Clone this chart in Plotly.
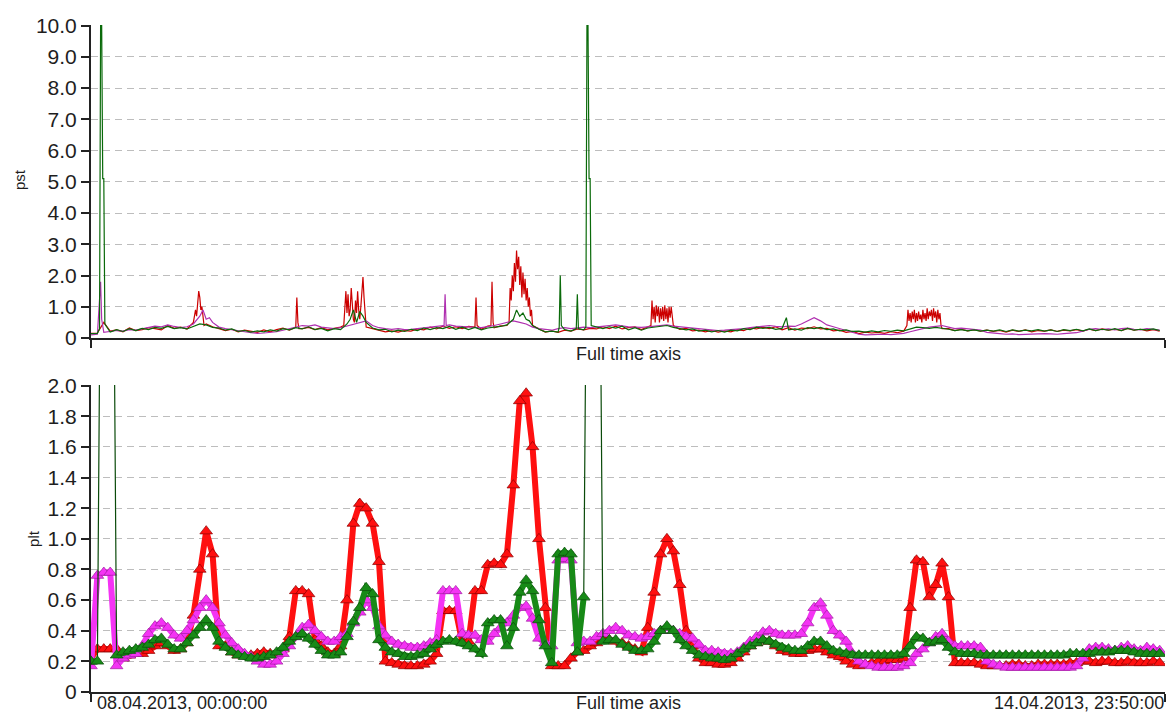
import pandas as pd
import plotly.graph_objects as go

START = pd.Timestamp("2013-04-08 00:00:00")
END = pd.Timestamp("2013-04-14 23:50:00")

start_label = "08.04.2013, 00:00:00"
end_label = "14.04.2013, 23:50:00"
axis_title = "Full time axis"

# ---------------- plt (hourly values, h = 0..167) ----------------
plt_red = [
    0.22, 0.28, 0.28, 0.28, 0.28, 0.22, 0.24, 0.25, 0.25, 0.27,
    0.30, 0.32, 0.30, 0.27, 0.28, 0.32, 0.50, 0.80, 1.05, 0.90,
    0.30, 0.30, 0.26, 0.24, 0.24, 0.24, 0.25, 0.26, 0.25, 0.24,
    0.28, 0.36, 0.66, 0.66, 0.64, 0.34, 0.30, 0.26, 0.25, 0.30,
    0.60, 1.10, 1.23, 1.20, 1.10, 0.85, 0.20, 0.19, 0.18, 0.17,
    0.17, 0.17, 0.18, 0.20, 0.25, 0.53, 0.53, 0.53, 0.33, 0.33,
    0.66, 0.66, 0.83, 0.84, 0.83, 0.90, 1.35, 1.90, 1.95, 1.60,
    1.00, 0.55, 0.17, 0.17, 0.17, 0.22, 0.26, 0.27, 0.30, 0.32,
    0.34, 0.34, 0.33, 0.32, 0.30, 0.28, 0.26, 0.42, 0.65, 0.90,
    1.00, 0.92, 0.70, 0.40, 0.30, 0.22, 0.19, 0.19, 0.18, 0.18,
    0.19, 0.22, 0.26, 0.30, 0.32, 0.34, 0.33, 0.30, 0.27, 0.26,
    0.25, 0.25, 0.27, 0.28, 0.28, 0.26, 0.24, 0.23, 0.20, 0.18,
    0.17, 0.18, 0.19, 0.20, 0.20, 0.21, 0.21, 0.22, 0.55, 0.86,
    0.85, 0.62, 0.70, 0.84, 0.62, 0.19, 0.19, 0.19, 0.19, 0.18,
    0.17, 0.17, 0.17, 0.17, 0.18, 0.18, 0.17, 0.17, 0.18, 0.18,
    0.18, 0.18, 0.18, 0.19, 0.19, 0.20, 0.20, 0.19, 0.20, 0.20,
    0.19, 0.19, 0.20, 0.19, 0.19, 0.19, 0.20, 0.19,
]
plt_mag = [
    0.17, 0.76, 0.78, 0.78, 0.17, 0.22, 0.24, 0.25, 0.30, 0.38,
    0.43, 0.45, 0.42, 0.37, 0.35, 0.40, 0.47, 0.55, 0.60, 0.55,
    0.45, 0.37, 0.32, 0.28, 0.25, 0.23, 0.20, 0.18, 0.18, 0.20,
    0.25, 0.30, 0.36, 0.42, 0.44, 0.40, 0.36, 0.33, 0.33, 0.36,
    0.38, 0.45, 0.52, 0.60, 0.55, 0.43, 0.37, 0.33, 0.31, 0.30,
    0.29, 0.29, 0.30, 0.32, 0.34, 0.66, 0.66, 0.66, 0.38, 0.37,
    0.37, 0.34, 0.33, 0.38, 0.42, 0.45, 0.50, 0.55, 0.56, 0.48,
    0.35, 0.32, 0.30, 0.86, 0.87, 0.86, 0.32, 0.33, 0.33, 0.36,
    0.38, 0.40, 0.42, 0.40, 0.37, 0.36, 0.35, 0.36, 0.38, 0.40,
    0.42, 0.40, 0.38, 0.36, 0.35, 0.31, 0.27, 0.27, 0.26, 0.25,
    0.25, 0.26, 0.29, 0.33, 0.36, 0.39, 0.40, 0.38, 0.37, 0.37,
    0.37, 0.38, 0.45, 0.55, 0.58, 0.50, 0.40, 0.37, 0.33, 0.25,
    0.20, 0.18, 0.17, 0.16, 0.16, 0.16, 0.16, 0.17, 0.19, 0.25,
    0.28, 0.32, 0.36, 0.38, 0.33, 0.30, 0.30, 0.30, 0.30, 0.29,
    0.20, 0.18, 0.17, 0.16, 0.16, 0.16, 0.16, 0.16, 0.16, 0.16,
    0.16, 0.16, 0.16, 0.16, 0.17, 0.22, 0.28, 0.29, 0.29, 0.28,
    0.27, 0.29, 0.30, 0.28, 0.27, 0.29, 0.28, 0.27,
]
plt_grn = [
    0.20, 0.20, 6.00, 6.00, 0.24, 0.26, 0.27, 0.28, 0.29, 0.31,
    0.34, 0.35, 0.31, 0.28, 0.28, 0.32, 0.37, 0.42, 0.47, 0.42,
    0.33, 0.29, 0.26, 0.24, 0.23, 0.22, 0.22, 0.23, 0.24, 0.26,
    0.29, 0.33, 0.36, 0.38, 0.35, 0.31, 0.27, 0.24, 0.24, 0.26,
    0.36, 0.46, 0.55, 0.68, 0.64, 0.34, 0.29, 0.26, 0.25, 0.23,
    0.23, 0.24, 0.25, 0.28, 0.31, 0.33, 0.34, 0.33, 0.32, 0.30,
    0.28, 0.25, 0.45, 0.47, 0.47, 0.30, 0.42, 0.65, 0.73, 0.66,
    0.47, 0.30, 0.19, 0.90, 0.91, 0.90, 0.26, 0.62, 6.00, 6.00,
    0.33, 0.34, 0.34, 0.31, 0.29, 0.27, 0.27, 0.28, 0.33, 0.40,
    0.43, 0.40, 0.34, 0.30, 0.27, 0.24, 0.23, 0.22, 0.22, 0.21,
    0.22, 0.25, 0.28, 0.30, 0.32, 0.34, 0.33, 0.31, 0.29, 0.28,
    0.27, 0.27, 0.30, 0.33, 0.33, 0.30, 0.27, 0.26, 0.25, 0.24,
    0.24, 0.24, 0.24, 0.24, 0.24, 0.24, 0.24, 0.25, 0.30, 0.36,
    0.35, 0.32, 0.33, 0.34, 0.29, 0.26, 0.25, 0.25, 0.25, 0.24,
    0.24, 0.24, 0.24, 0.24, 0.24, 0.24, 0.24, 0.24, 0.24, 0.24,
    0.24, 0.24, 0.24, 0.25, 0.25, 0.25, 0.25, 0.26, 0.26, 0.26,
    0.27, 0.27, 0.27, 0.26, 0.25, 0.25, 0.25, 0.25,
]

# ---------------- pst (hourly base values + 10-minute events) ----------------
pst_red_base = [
    0.15, 0.16, 0.28, 0.22, 0.26, 0.20, 0.32, 0.24, 0.27, 0.33,
    0.30, 0.26, 0.40, 0.31, 0.35, 0.29, 0.42, 0.50, 0.45, 0.36,
    0.30, 0.24, 0.28, 0.20, 0.25, 0.22, 0.18, 0.26, 0.20, 0.27,
    0.32, 0.25, 0.37, 0.30, 0.34, 0.27, 0.33, 0.26, 0.31, 0.35,
    0.50, 0.60, 0.70, 0.45, 0.30, 0.24, 0.20, 0.23, 0.19, 0.24,
    0.22, 0.29, 0.26, 0.35, 0.29, 0.38, 0.31, 0.36, 0.30, 0.37,
    0.33, 0.28, 0.38, 0.33, 0.39, 0.40, 1.50, 2.00, 1.50, 0.60,
    0.30, 0.19, 0.23, 0.18, 0.25, 0.22, 0.29, 0.26, 0.31, 0.29,
    0.36, 0.30, 0.38, 0.29, 0.33, 0.36, 0.27, 0.35, 0.90, 0.95,
    0.90, 0.35, 0.28, 0.31, 0.23, 0.25, 0.20, 0.24, 0.19, 0.23,
    0.20, 0.27, 0.24, 0.32, 0.29, 0.35, 0.30, 0.36, 0.26, 0.33,
    0.25, 0.32, 0.30, 0.36, 0.29, 0.31, 0.23, 0.25, 0.18, 0.21,
    0.14, 0.19, 0.16, 0.18, 0.15, 0.20, 0.17, 0.22, 0.70, 0.80,
    0.75, 0.70, 0.85, 0.40, 0.30, 0.24, 0.28, 0.23, 0.27, 0.22,
    0.25, 0.21, 0.24, 0.19, 0.25, 0.21, 0.26, 0.20, 0.24, 0.22,
    0.26, 0.21, 0.25, 0.23, 0.27, 0.22, 0.28, 0.24, 0.29, 0.25,
    0.28, 0.24, 0.31, 0.25, 0.28, 0.23, 0.27, 0.22,
]
pst_mag_base = [
    0.10, 0.12, 0.18, 0.20, 0.24, 0.22, 0.27, 0.25, 0.30, 0.33,
    0.38, 0.36, 0.42, 0.37, 0.33, 0.36, 0.45, 0.55, 0.60, 0.45,
    0.35, 0.30, 0.26, 0.24, 0.20, 0.17, 0.15, 0.16, 0.18, 0.20,
    0.25, 0.30, 0.36, 0.40, 0.38, 0.42, 0.35, 0.32, 0.30, 0.33,
    0.38, 0.45, 0.50, 0.55, 0.40, 0.33, 0.30, 0.28, 0.30, 0.27,
    0.28, 0.30, 0.32, 0.35, 0.38, 0.40, 0.42, 0.38, 0.36, 0.35,
    0.34, 0.33, 0.36, 0.40, 0.45, 0.50, 0.55, 0.50, 0.45, 0.35,
    0.30, 0.28, 0.25, 0.30, 0.33, 0.30, 0.32, 0.35, 0.33, 0.36,
    0.38, 0.40, 0.42, 0.38, 0.36, 0.35, 0.34, 0.36, 0.38, 0.40,
    0.42, 0.38, 0.36, 0.34, 0.32, 0.30, 0.27, 0.25, 0.24, 0.25,
    0.26, 0.28, 0.30, 0.33, 0.36, 0.38, 0.40, 0.37, 0.36, 0.38,
    0.37, 0.45, 0.55, 0.65, 0.55, 0.42, 0.36, 0.30, 0.22, 0.18,
    0.12, 0.10, 0.11, 0.10, 0.12, 0.11, 0.13, 0.15, 0.20, 0.26,
    0.30, 0.35, 0.38, 0.40, 0.35, 0.30, 0.32, 0.30, 0.28, 0.25,
    0.18, 0.15, 0.14, 0.12, 0.13, 0.11, 0.12, 0.13, 0.12, 0.14,
    0.13, 0.12, 0.14, 0.15, 0.17, 0.22, 0.28, 0.30, 0.27, 0.29,
    0.26, 0.30, 0.32, 0.28, 0.26, 0.30, 0.28, 0.25,
]
pst_grn_base = [
    0.14, 0.15, 0.25, 0.19, 0.27, 0.21, 0.30, 0.24, 0.31, 0.27,
    0.34, 0.31, 0.37, 0.30, 0.33, 0.29, 0.38, 0.45, 0.42, 0.34,
    0.32, 0.25, 0.29, 0.21, 0.24, 0.19, 0.23, 0.20, 0.26, 0.22,
    0.30, 0.26, 0.33, 0.29, 0.36, 0.27, 0.31, 0.23, 0.30, 0.27,
    0.45, 0.55, 0.60, 0.50, 0.32, 0.26, 0.28, 0.20, 0.25, 0.21,
    0.28, 0.24, 0.32, 0.27, 0.33, 0.30, 0.37, 0.28, 0.35, 0.27,
    0.34, 0.26, 0.32, 0.35, 0.37, 0.42, 0.60, 0.75, 0.60, 0.40,
    0.28, 0.20, 0.22, 0.19, 0.27, 0.22, 0.30, 0.26, 0.40, 0.35,
    0.30, 0.36, 0.32, 0.38, 0.26, 0.33, 0.25, 0.32, 0.35, 0.38,
    0.40, 0.34, 0.30, 0.26, 0.29, 0.22, 0.25, 0.20, 0.24, 0.19,
    0.25, 0.23, 0.30, 0.27, 0.35, 0.31, 0.34, 0.28, 0.31, 0.26,
    0.29, 0.25, 0.33, 0.30, 0.34, 0.27, 0.29, 0.23, 0.26, 0.21,
    0.22, 0.19, 0.23, 0.20, 0.24, 0.21, 0.25, 0.23, 0.30, 0.35,
    0.33, 0.31, 0.34, 0.32, 0.28, 0.24, 0.27, 0.23, 0.26, 0.22,
    0.25, 0.22, 0.26, 0.21, 0.26, 0.22, 0.25, 0.23, 0.27, 0.22,
    0.26, 0.21, 0.27, 0.24, 0.28, 0.23, 0.29, 0.24, 0.28, 0.25,
    0.30, 0.24, 0.31, 0.25, 0.28, 0.26, 0.29, 0.24,
]

# 10-minute slot index -> value (short events)
pst_red_events = {
    12: 0.5,
    96: 0.5, 98: 0.9, 99: 0.7, 100: 1.2, 101: 1.5, 102: 1.3, 103: 0.9, 104: 1.0, 105: 0.6, 106: 0.4,
    192: 0.35, 193: 1.3, 194: 0.5, 195: 0.3,
    237: 0.4, 238: 1.2, 239: 1.5, 240: 0.8, 241: 1.4, 242: 0.7, 243: 0.9, 244: 1.6, 245: 1.1,
    246: 0.6, 247: 0.5, 248: 1.2, 249: 0.8, 250: 1.5, 251: 0.9, 252: 0.6, 253: 1.0, 254: 1.5,
    255: 1.95, 256: 1.3, 257: 0.7, 258: 0.35,
    360: 0.35, 361: 1.3, 362: 0.4,
    375: 0.4, 376: 1.8, 377: 0.5,
    392: 0.5, 393: 1.6, 394: 1.2, 395: 2.0, 396: 1.5, 397: 2.4, 398: 1.8, 399: 2.8, 400: 2.2,
    401: 2.6, 402: 1.7, 403: 2.3, 404: 1.3, 405: 2.1, 406: 1.4, 407: 1.9, 408: 1.2, 409: 1.6,
    410: 1.0, 411: 1.3, 412: 0.7, 413: 0.9, 414: 0.4,
    525: 0.4, 526: 1.2, 527: 0.6, 528: 1.0, 529: 0.5, 530: 1.05, 531: 0.7, 532: 1.0, 533: 0.5,
    534: 0.95, 535: 0.6, 536: 1.0, 537: 0.55, 538: 1.05, 539: 0.6, 540: 0.95, 541: 0.5, 542: 1.0,
    543: 0.65, 544: 1.0, 545: 0.55, 546: 0.4,
    765: 0.4, 766: 0.9, 767: 0.55, 768: 0.8, 769: 0.5, 770: 0.85, 771: 0.6, 772: 0.9, 773: 0.5,
    774: 0.8, 775: 0.55, 776: 0.85, 777: 0.6, 778: 0.75, 779: 0.5, 780: 0.9, 781: 0.6, 782: 0.8,
    783: 0.55, 784: 0.95, 785: 0.6, 786: 0.85, 787: 0.7, 788: 0.9, 789: 0.55, 790: 0.95,
    791: 0.65, 792: 0.85, 793: 0.5, 794: 0.9, 795: 0.6, 796: 0.8, 797: 0.4, 798: 0.3,
}
pst_mag_events = {
    9: 1.8, 10: 0.6,
    102: 0.7, 105: 0.9, 108: 0.6, 111: 0.65, 114: 0.5,
    331: 0.35, 332: 1.4, 333: 0.4,
}
pst_grn_events = {
    8: 0.3, 9: 10.0, 10: 10.0, 11: 5.1, 12: 5.1, 13: 0.45,
    243: 0.6, 246: 0.9, 249: 0.5, 252: 0.85, 255: 0.7,
    396: 0.6, 399: 0.9, 402: 0.7, 405: 0.8, 408: 0.6, 411: 0.55,
    439: 0.35, 440: 2.0, 441: 0.4,
    455: 0.3, 456: 1.4, 457: 0.3,
    464: 0.35, 465: 10.0, 466: 10.0, 467: 5.1, 468: 5.1, 469: 0.4,
    652: 0.65,
}

for arr in (plt_red, plt_mag, plt_grn, pst_red_base, pst_mag_base, pst_grn_base):
    assert len(arr) == 168, len(arr)


def slot_time(s):
    return START + pd.Timedelta(minutes=10 * s)


def hourly(values):
    return [slot_time(6 * h) for h in range(len(values))], list(values)


def merged(base, events):
    pts = {6 * h: v for h, v in enumerate(base)}
    pts.update(events)
    slots = sorted(pts)
    return [slot_time(s) for s in slots], [pts[s] for s in slots]


fig = go.Figure()

# top: pst lines
pst_series = [
    (pst_red_base, pst_red_events, "#cc0000"),
    (pst_mag_base, pst_mag_events, "#b030b0"),
    (pst_grn_base, pst_grn_events, "#0a6a0a"),
]
for base, ev, col in pst_series:
    x, y = merged(base, ev)
    fig.add_trace(go.Scatter(x=x, y=y, mode="lines", line=dict(color=col, width=1.2),
                             xaxis="x", yaxis="y", hoverinfo="skip"))

# bottom: plt - thin connector + dense band of triangle markers
plt_series = [
    (plt_red, "#ff1010", "#8a0000"),
    (plt_mag, "#f433f4", "#a020a0"),
    (plt_grn, "#178a17", "#0a4a0a"),
]
YMAX2 = 2.0
for vals, fill, dark in plt_series:
    x, y = hourly(vals)
    fig.add_trace(go.Scatter(x=x, y=y, mode="lines", line=dict(color=dark, width=1.2),
                             xaxis="x2", yaxis="y2", hoverinfo="skip"))
    yb = [v if v <= YMAX2 else None for v in y]
    fig.add_trace(go.Scatter(x=x, y=yb, mode="lines+markers",
                             line=dict(color=fill, width=6),
                             marker=dict(symbol="triangle-up", size=11, color=fill,
                                         line=dict(color=dark, width=0.7)),
                             connectgaps=False,
                             xaxis="x2", yaxis="y2", hoverinfo="skip"))

font_family = "Liberation Sans, Arial, sans-serif"
txt = "#1e1e1e"
grid = dict(showgrid=True, gridcolor="#bdbdbd", gridwidth=1, griddash="7px,5px")

xcommon = dict(range=[START, END], showgrid=False, zeroline=False, showline=True,
               linecolor="#222", linewidth=2, ticks="outside", ticklen=8, tickwidth=1.5,
               tickcolor="#222", tickvals=[START, END], showticklabels=False)

top_vals = list(range(0, 11))
top_text = ["0"] + [f"{v:.1f}" for v in top_vals[1:]]
bot_vals = [i * 0.2 for i in range(11)]
bot_text = ["0"] + [f"{v:.1f}" for v in bot_vals[1:]]

ycommon = dict(zeroline=False, showline=True, linecolor="#222", linewidth=2,
               ticks="outside", ticklen=8, tickwidth=1.5, tickcolor="#222",
               tickfont=dict(family=font_family, size=21, color=txt), **grid)

fig.update_layout(
    width=1170, height=715,
    margin=dict(l=91, r=5, t=25, b=23),
    paper_bgcolor="white", plot_bgcolor="white",
    showlegend=False,
    font=dict(family=font_family, color=txt),
    xaxis=dict(domain=[0, 1], anchor="y", **xcommon),
    yaxis=dict(domain=[0.5307, 1], anchor="x", range=[0, 10.02],
               tickvals=top_vals, ticktext=top_text, **ycommon),
    xaxis2=dict(domain=[0, 1], anchor="y2", **xcommon),
    yaxis2=dict(domain=[0, 0.4603], anchor="x2", range=[0, 2.004],
                tickvals=bot_vals, ticktext=bot_text, **ycommon),
)

ann_font = dict(family=font_family, size=18, color=txt)
fig.add_annotation(text="pst", x=-0.067, y=0.7676, xref="paper", yref="paper",
                   textangle=-90, showarrow=False, xanchor="center", yanchor="middle",
                   font=dict(family=font_family, size=15, color=txt))
fig.add_annotation(text="plt", x=-0.0531, y=0.2309, xref="paper", yref="paper",
                   textangle=-90, showarrow=False, xanchor="center", yanchor="middle",
                   font=dict(family=font_family, size=15, color=txt))
fig.add_annotation(text=axis_title, x=0.5, y=0.5067, xref="paper", yref="paper",
                   showarrow=False, xanchor="center", yanchor="middle", font=ann_font)
fig.add_annotation(text=axis_title, x=0.5, y=-0.017, xref="paper", yref="paper",
                   showarrow=False, xanchor="center", yanchor="middle", font=ann_font)
fig.add_annotation(text=start_label, x=0.0037, y=-0.017, xref="paper", yref="paper",
                   showarrow=False, xanchor="left", yanchor="middle", font=ann_font)
fig.add_annotation(text=end_label, x=1.001, y=-0.017, xref="paper", yref="paper",
                   showarrow=False, xanchor="right", yanchor="middle", font=ann_font)

fig.write_html(
    "out.html",
    config={"displayModeBar": False},
    post_script="document.body.style.margin='0';document.body.style.overflow='hidden';",
)
